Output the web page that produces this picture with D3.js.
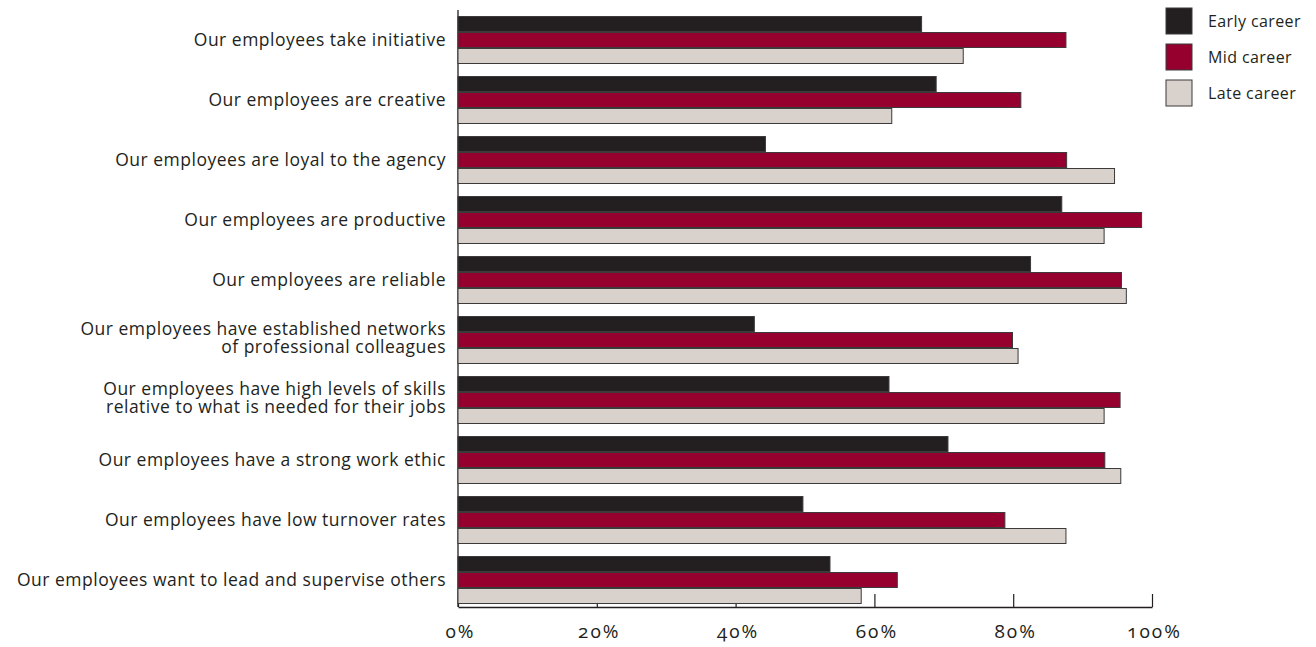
<!DOCTYPE html>
<html>
<head>
<meta charset="utf-8">
<script src="https://cdn.jsdelivr.net/npm/d3@7"></script>
<style>
  body { margin: 0; background: white; }
  text { font-family: "Open Sans", Lato, sans-serif; fill: #231f20; }
</style>
</head>
<body>
<script>
//Width and height
var w = 1316;
var h = 647;

// categories, top to bottom (each one is a list of text lines)
var categories = [
  ["Our employees take initiative"],
  ["Our employees are creative"],
  ["Our employees are loyal to the agency"],
  ["Our employees are productive"],
  ["Our employees are reliable"],
  ["Our employees have established networks", "of professional colleagues"],
  ["Our employees have  high levels of skills", "relative to what is needed for their jobs"],
  ["Our employees have a strong work ethic"],
  ["Our employees have low turnover rates"],
  ["Our employees want to lead and supervise others"]
];

var seriesNames = ["Early career", "Mid career", "Late career"];
var seriesColors = ["#231f20", "#96002f", "#d9d1cb"];

// percent values
var early = [66.8, 68.9, 44.3, 87.0, 82.5, 42.7, 62.1, 70.6, 49.7, 53.6];
var mid   = [87.6, 81.1, 87.7, 98.5, 95.6, 79.9, 95.4, 93.2, 78.8, 63.3];
var late  = [72.8, 62.5, 94.6, 93.1, 96.3, 80.7, 93.1, 95.5, 87.6, 58.1];

var tickValues = [0, 20, 40, 60, 80, 100];

var values = [early, mid, late];

//Create SVG element
var svg = d3.select("body")
            .append("svg")
            .attr("width", w)
            .attr("height", h);

var x = d3.scaleLinear().domain([0, 100]).range([458, 1152]);

var y = d3.scaleBand()
          .domain(d3.range(categories.length))
          .range([10, 610])
          .paddingInner(0.2)
          .paddingOuter(0.1);

var ySub = d3.scaleBand()
             .domain(d3.range(seriesNames.length))
             .range([0, y.bandwidth()]);

var axisY = 607;

// x axis (ticks point up, bars drawn over them)
var xAxis = svg.append("g")
   .attr("transform", "translate(0," + axisY + ")")
   .call(d3.axisBottom(x)
           .tickValues(tickValues)
           .tickSizeInner(-13)
           .tickSizeOuter(0)
           .tickPadding(18)
           .tickFormat(function(d) { return d + "%"; }));

xAxis.select(".domain").attr("stroke", "#231f20").attr("stroke-width", 1.3);
xAxis.selectAll(".tick line").attr("stroke", "#231f20").attr("stroke-width", 1.2);
xAxis.selectAll(".tick text")
     .attr("font-family", "Lato, sans-serif")
     .attr("font-size", "19px")
     .attr("letter-spacing", "2px")
     .attr("dx", "2px")
     .style("font-variant-numeric", "oldstyle-nums")
     .attr("fill", "#231f20");

// y axis line
svg.append("line")
   .attr("x1", x(0)).attr("x2", x(0))
   .attr("y1", 10).attr("y2", axisY)
   .attr("stroke", "#231f20")
   .attr("stroke-width", 1.3);

// bars
var groups = svg.selectAll("g.group")
   .data(categories)
   .enter()
   .append("g")
   .attr("class", "group")
   .attr("transform", function(d, i) { return "translate(0," + y(i) + ")"; });

groups.selectAll("rect")
   .data(function(d, i) {
           return values.map(function(s, j) { return { s: j, v: s[i] }; });
   })
   .enter()
   .append("rect")
   .attr("x", x(0))
   .attr("y", function(d) { return ySub(d.s) + 0.5; })
   .attr("width", function(d) { return x(d.v) - x(0); })
   .attr("height", ySub.bandwidth() - 1)
   .attr("fill", function(d) { return seriesColors[d.s]; })
   .attr("stroke", "#3c3a3b")
   .attr("stroke-width", 1);

// category labels
var labels = groups.append("text")
   .attr("text-anchor", "end")
   .attr("font-size", "17.5px")
   .attr("letter-spacing", "0.5px")
   .attr("x", 446)
   .attr("y", y.bandwidth() / 2);

labels.selectAll("tspan")
   .data(function(d) { return d; })
   .enter()
   .append("tspan")
   .attr("x", 446)
   .attr("dy", function(d, i, nodes) {
           if (i > 0) return "18px";
           return nodes.length > 1 ? "-5px" : "6px";
   })
   .text(function(d) { return d; });

// legend
var legend = svg.selectAll("g.legend")
   .data(seriesNames)
   .enter()
   .append("g")
   .attr("class", "legend")
   .attr("transform", function(d, i) { return "translate(1166," + (8 + i * 36) + ")"; });

legend.append("rect")
   .attr("width", 26)
   .attr("height", 26)
   .attr("fill", function(d, i) { return seriesColors[i]; })
   .attr("stroke", "#3c3a3b")
   .attr("stroke-width", 1);

legend.append("text")
   .attr("x", 42)
   .attr("y", 19)
   .attr("font-size", "16px")
   .attr("letter-spacing", "0.4px")
   .text(function(d) { return d; });
</script>
</body>
</html>
